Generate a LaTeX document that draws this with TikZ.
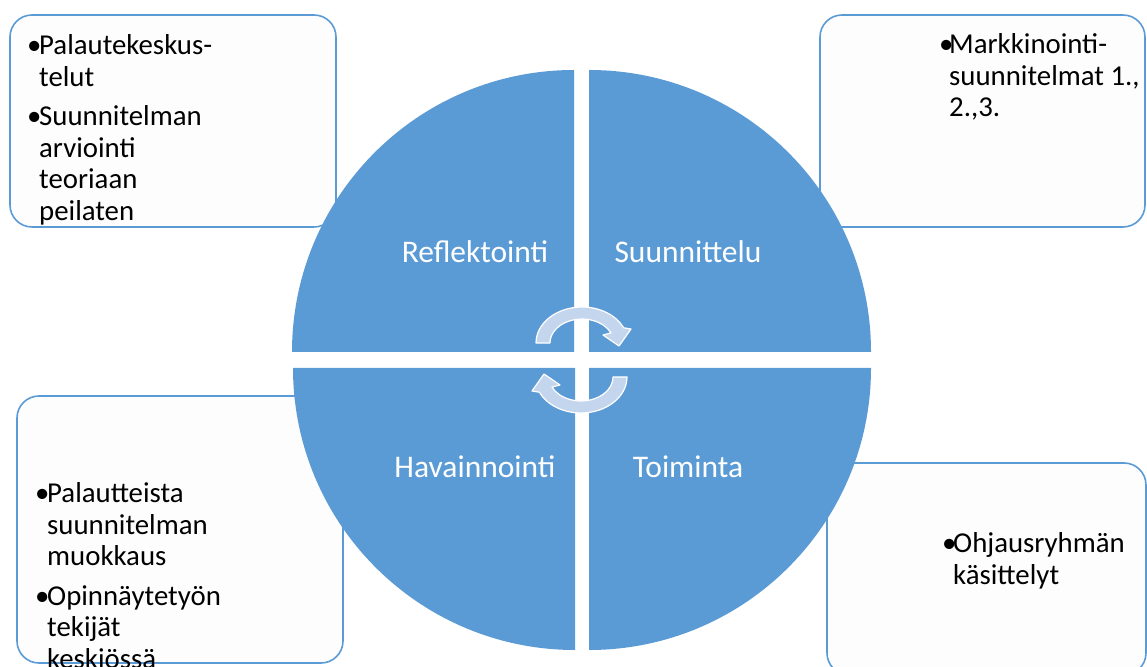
\documentclass[tikz,border=0pt]{standalone}
\usepackage{fontspec}
\setmainfont{Carlito}
\usetikzlibrary{positioning}
\definecolor{quadblue}{HTML}{5B9BD5}
\definecolor{cycblue}{HTML}{C3D6EE}
\definecolor{boxfill}{HTML}{FDFDFD}

\begin{document}
\begin{tikzpicture}[x=1pt, y=1pt,
    box/.style={draw=quadblue, line width=1.6pt, fill=boxfill, rounded corners=22pt, anchor=north west, outer sep=0pt, inner sep=0pt},
    note/.style={anchor=base west, inner sep=0pt, align=left, font=\fontsize{28.8}{31.5}\selectfont},
    quad/.style={fill=quadblue},
    phase/.style={text=white, inner sep=0pt, font=\fontsize{31.5}{36}\selectfont},
    cyc/.style={fill=cycblue, draw=white, line width=1.2pt, line join=round}
]
\useasboundingbox (0,0) rectangle (1147,666);
% text boxes behind the circle
\node[box, minimum width=326pt, minimum height=212pt] (tlbox) at (10,651) {};
\node[box, minimum width=325pt, minimum height=212pt] (trbox) at (820,651) {};
\node[box, minimum width=326pt, minimum height=267pt] (blbox) at (17,270) {};
\node[box, minimum width=319pt, minimum height=212pt] (brbox) at (827,203) {};
\node[note] (tltext) at ([xshift=17pt, yshift=-40pt]tlbox.north west)
  {\begin{tabular}[t]{@{}p{12pt}@{}l@{}}•&Palautekeskus-\\&telut\\[8pt]•&Suunnitelman\\&arviointi\\&teoriaan\\&peilaten\end{tabular}};
\node[note] (trtext) at ([xshift=119pt, yshift=-39pt]trbox.north west)
  {\begin{tabular}[t]{@{}p{10pt}@{}l@{}}•&Markkinointi-\\&suunnitelmat 1.,\\&2.,3.\end{tabular}};
\node[note] (bltext) at ([xshift=18pt, yshift=-107pt]blbox.north west)
  {\begin{tabular}[t]{@{}p{12pt}@{}l@{}}•&Palautteista\\&suunnitelman\\&muokkaus\\[8pt]•&Opinnäytetyön\\&tekijät\\&keskiössä\end{tabular}};
\node[note] (brtext) at ([xshift=115pt, yshift=-90pt]brbox.north west)
  {\begin{tabular}[t]{@{}p{11pt}@{}l@{}}•&Ohjausryhmän\\&käsittelyt\end{tabular}};
% the four quarters
\fill[quad] (574,314) -- (292,314) arc[start angle=180, end angle=90, radius=282] -- cycle;
\fill[quad] (589,314) -- (871,314) arc[start angle=0, end angle=90, radius=282] -- cycle;
\fill[quad] (575,298) -- (293,298) arc[start angle=180, end angle=270, radius=282] -- cycle;
\fill[quad] (589,298) -- (871,298) arc[start angle=0, end angle=-90, radius=282] -- cycle;
\node[phase] (refl) at (475,414) {Reflektointi};
\node[phase] (suun) at (688,414) {Suunnittelu};
\node[phase] (hav) at (475,199) {Havainnointi};
\node[phase] (toim) at (688,199) {Toiminta};
% cycle arrows in the middle
\foreach \r in {0,180}
  \draw[cyc, rotate around={\r:(581.5,306)}] (536,323) arc[start angle=180, end angle=25, x radius=46, y radius=36]
    -- (631,337) -- (619,320) -- (603,331) -- (611,333.1)
    arc[start angle=25, end angle=180, x radius=32, y radius=24] -- cycle;
\end{tikzpicture}
\end{document}
